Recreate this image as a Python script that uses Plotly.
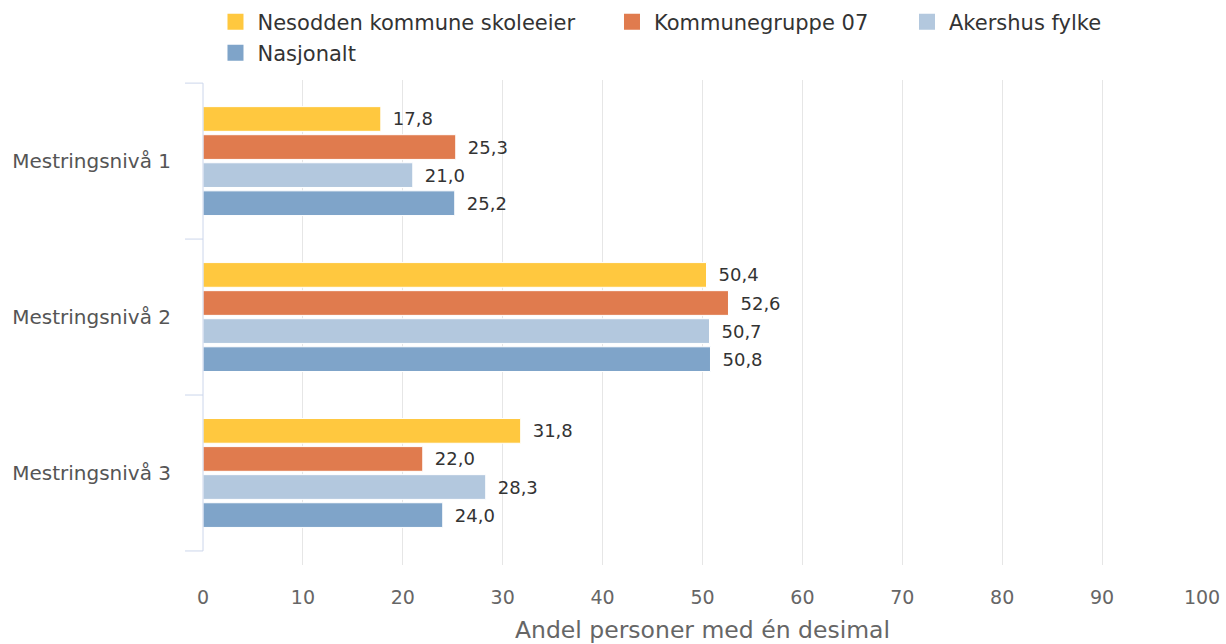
import plotly.graph_objects as go

categories = ["Mestringsnivå 1", "Mestringsnivå 2", "Mestringsnivå 3"]
series_names = ["Nesodden kommune skoleeier", "Kommunegruppe 07", "Akershus fylke", "Nasjonalt"]
nesodden = [17.8, 50.4, 31.8]
kommunegruppe = [25.3, 52.6, 22.0]
akershus = [21.0, 50.7, 28.3]
nasjonalt = [25.2, 50.8, 24.0]
x_ticks = [0, 10, 20, 30, 40, 50, 60, 70, 80, 90, 100]

colors = ["#ffc83f", "#e07b4e", "#b3c8de", "#7fa4c9"]
values = [nesodden, kommunegruppe, akershus, nasjonalt]
FONT = "DejaVu Sans, Verdana, sans-serif"

fig = go.Figure()
for name, vals, col in zip(series_names, values, colors):
    fig.add_trace(go.Bar(
        y=categories, x=vals, name=name, orientation="h", showlegend=False,
        marker=dict(color=col, line=dict(color="#ffffff", width=1)),
        text=["\u2002" + f"{v:.1f}".replace(".", ",") for v in vals],
        textposition="outside", cliponaxis=False,
        textfont=dict(size=18, color="#333333", family=FONT),
        hovertemplate="%{y}: %{x}<extra>" + name + "</extra>",
    ))

# legend entries (one legend per entry so each can be placed like the original)
legend_ids = ["legend", "legend2", "legend3", "legend4"]
for name, col, lid in zip(series_names, colors, legend_ids):
    fig.add_trace(go.Scatter(
        x=[None], y=[None], mode="markers", name=name, legend=lid,
        marker=dict(symbol="square", size=16, color=col), showlegend=True,
        hoverinfo="skip",
    ))

# category axis line and boundary ticks
shapes = [dict(type="line", xref="paper", yref="y", x0=0, x1=0, y0=-0.5, y1=2.5,
               line=dict(color="#ccd6eb", width=1))]
for b in [-0.5, 0.5, 1.5, 2.5]:
    shapes.append(dict(type="line", xref="paper", yref="y", x0=-0.018, x1=0, y0=b, y1=b,
                       line=dict(color="#ccd6eb", width=1)))

legend_font = dict(size=21, color="#333333", family=FONT)
leg_common = dict(orientation="h", xanchor="left", yanchor="middle",
                  font=legend_font, itemwidth=34, bgcolor="rgba(0,0,0,0)")

fig.update_layout(
    width=1226, height=644,
    margin=dict(l=203, r=24, t=80, b=79, autoexpand=False),
    paper_bgcolor="white", plot_bgcolor="white",
    barmode="group", bargap=0.28, bargroupgap=0.12,
    font=dict(family=FONT, color="#666666"),
    shapes=shapes,
    legend=dict(x=0.0105, y=1.1196, **leg_common),
    legend2=dict(x=0.4074, y=1.1196, **leg_common),
    legend3=dict(x=0.7027, y=1.1196, **leg_common),
    legend4=dict(x=0.0105, y=1.0557, **leg_common),
    xaxis=dict(range=[0, 100], tickvals=x_ticks, showgrid=True, gridcolor="#e6e6e6",
               zeroline=False, showline=False, ticks="outside", ticklen=15,
               tickcolor="rgba(0,0,0,0)", automargin=False,
               tickfont=dict(size=19, color="#666666", family=FONT),
               title=dict(text="Andel personer med én desimal", standoff=17,
                          font=dict(size=23.5, color="#666666", family=FONT))),
    yaxis=dict(categoryorder="array", categoryarray=categories, autorange=False,
               range=[2.59, -0.52], showgrid=False, zeroline=False, showline=False,
               ticks="", ticklabelstandoff=31, automargin=False,
               tickfont=dict(size=20, color="#555555", family=FONT)),
)

fig.write_html("out.html", post_script="document.body.style.margin='0';",
               config={"displayModeBar": False})
